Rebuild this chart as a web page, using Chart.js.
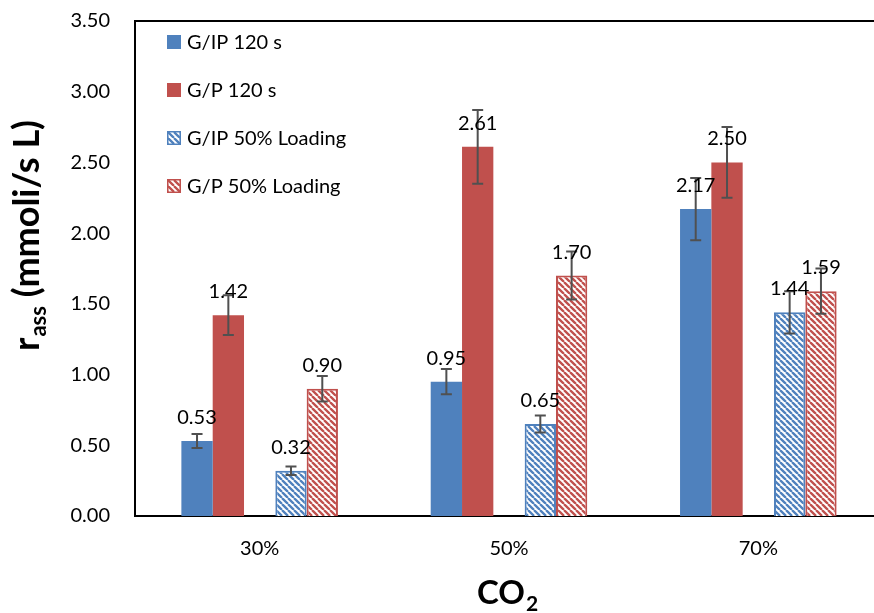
<!DOCTYPE html>
<html>
<head>
<meta charset="utf-8">
<script src="https://cdn.jsdelivr.net/npm/chart.js@4.4.0/dist/chart.umd.min.js"></script>
<style>
  html, body { margin: 0; padding: 0; background: #fff; overflow: hidden; }
  #wrap { width: 874px; height: 613px; overflow: hidden; position: relative; }
  canvas { display: block; }
</style>
</head>
<body>
<div id="wrap"><canvas id="c" width="883" height="613"></canvas></div>
<script>
// ---- Data ----
const categories = ['30%', '50%', '70%'];
const seriesNames = ['G/IP 120 s', 'G/P 120 s', 'G/IP 50% Loading', 'G/P 50% Loading'];
const gip120 = [0.53, 0.95, 2.17];
const gp120 = [1.42, 2.61, 2.50];
const gip50 = [0.32, 0.65, 1.44];
const gp50 = [0.90, 1.70, 1.59];
const gip120Err = [0.05, 0.09, 0.22];
const gp120Err = [0.14, 0.26, 0.25];
const gip50Err = [0.03, 0.06, 0.15];
const gp50Err = [0.09, 0.17, 0.16];
const yMin = 0, yMax = 3.5, yStep = 0.5;

// ---- Styles ----
const BLUE = '#4F81BD';
const RED = '#C0504D';
const FONT = 'Lato, "Open Sans", sans-serif';

const canvas = document.getElementById('c');
const ctx = canvas.getContext('2d');

function hatch(color) {
  const c = document.createElement('canvas');
  c.width = 6; c.height = 6;
  const g = c.getContext('2d');
  g.fillStyle = '#ffffff';
  g.fillRect(0, 0, 6, 6);
  g.strokeStyle = color;
  g.lineWidth = 2.3;
  g.beginPath();
  for (let k = -6; k <= 6; k += 6) { g.moveTo(k, 0); g.lineTo(k + 6, 6); }
  g.stroke();
  return ctx.createPattern(c, 'repeat');
}
const blueHatch = hatch(BLUE);
const redHatch = hatch(RED);

const extras = {
  id: 'extras',
  afterDatasetsDraw(chart) {
    const c = chart.ctx;
    const ys = chart.scales.y;
    // error bars
    chart.data.datasets.forEach((ds, i) => {
      if (!ds.err) return;
      const meta = chart.getDatasetMeta(i);
      meta.data.forEach((bar, j) => {
        const v = ds.data[j], e = ds.err[j];
        const yt = ys.getPixelForValue(v + e);
        const yb = ys.getPixelForValue(v - e);
        c.save();
        c.strokeStyle = '#505050';
        c.lineWidth = 2;
        c.beginPath();
        c.moveTo(bar.x, yt); c.lineTo(bar.x, yb);
        c.moveTo(bar.x - 5.5, yt); c.lineTo(bar.x + 5.5, yt);
        c.moveTo(bar.x - 5.5, yb); c.lineTo(bar.x + 5.5, yb);
        c.stroke();
        c.restore();
      });
    });
    // data labels
    chart.data.datasets.forEach((ds, i) => {
      if (!ds.err) return;
      const meta = chart.getDatasetMeta(i);
      meta.data.forEach((bar, j) => {
        c.save();
        c.fillStyle = '#000';
        c.font = '20px ' + FONT;
        c.textAlign = 'center';
        c.textBaseline = 'alphabetic';
        c.fillText(ds.data[j].toFixed(2), bar.x, bar.y - 17);
        c.restore();
      });
    });
  },
  afterDraw(chart) {
    const c = chart.ctx;
    const area = chart.chartArea;
    // top border of plot area
    c.save();
    c.strokeStyle = '#000';
    c.lineWidth = 2;
    c.beginPath();
    c.moveTo(area.left - 1, area.top);
    c.lineTo(area.right + 2, area.top);
    c.stroke();
    c.restore();

    // legend
    const items = chart.data.datasets.filter(d => d.err);
    items.forEach((ds, k) => {
      const cy = 42 + k * 48;
      const bx = 167, bs = 14;
      c.save();
      c.fillStyle = ds.backgroundColor;
      c.fillRect(bx, cy - bs / 2, bs, bs);
      if (ds.borderWidth) {
        c.strokeStyle = ds.borderColor;
        c.lineWidth = 1.5;
        c.strokeRect(bx + 0.75, cy - bs / 2 + 0.75, bs - 1.5, bs - 1.5);
      }
      c.fillStyle = '#000';
      c.font = '20px ' + FONT;
      c.textAlign = 'left';
      c.textBaseline = 'middle';
      c.fillText(ds.label, 187, cy + 1);
      c.restore();
    });

    // y-axis title: r_ass (mmoli/s L)
    c.save();
    c.translate(39, 236);
    c.rotate(-Math.PI / 2);
    c.fillStyle = '#000';
    c.textBaseline = 'alphabetic';
    c.textAlign = 'left';
    const big = 'bold 36px ' + FONT, small = 'bold 22px ' + FONT;
    c.font = big; const w1 = c.measureText('r').width;
    c.font = small; const w2 = c.measureText('ass').width;
    c.font = big; const w3 = c.measureText(' (mmoli/s L)').width;
    let x0 = -(w1 + w2 + w3) / 2;
    c.font = big; c.fillText('r', x0, 0);
    c.font = small; c.fillText('ass', x0 + w1 + 1, 7);
    c.font = big; c.fillText(' (mmoli/s L)', x0 + w1 + w2 + 1, 0);
    c.restore();

    // x-axis title: CO2
    c.save();
    c.fillStyle = '#000';
    c.textBaseline = 'alphabetic';
    c.textAlign = 'left';
    const xb = 'bold 33px ' + FONT, xs = 'bold 21px ' + FONT;
    c.font = xb; const a1 = c.measureText('CO').width;
    c.font = xs; const a2 = c.measureText('2').width;
    const sx = 507 - (a1 + a2) / 2;
    c.font = xb; c.fillText('CO', sx, 604);
    c.font = xs; c.fillText('2', sx + a1 + 1, 611);
    c.restore();
  }
};

new Chart(ctx, {
  type: 'bar',
  data: {
    labels: categories,
    datasets: [
      { label: seriesNames[0], data: gip120, err: gip120Err, backgroundColor: BLUE, borderWidth: 0 },
      { label: seriesNames[1], data: gp120, err: gp120Err, backgroundColor: RED, borderWidth: 0 },
      { label: '', data: [null, null, null], backgroundColor: 'rgba(0,0,0,0)' },
      { label: seriesNames[2], data: gip50, err: gip50Err, backgroundColor: blueHatch, borderColor: BLUE, borderWidth: 2 },
      { label: seriesNames[3], data: gp50, err: gp50Err, backgroundColor: redHatch, borderColor: RED, borderWidth: 2 }
    ]
  },
  options: {
    responsive: false,
    animation: false,
    devicePixelRatio: 1,
    layout: { padding: 0 },
    datasets: { bar: { categoryPercentage: 0.628, barPercentage: 1.0 } },
    plugins: { legend: { display: false }, tooltip: { enabled: false } },
    scales: {
      x: {
        grid: { display: false, drawTicks: false },
        border: { display: true, color: '#000', width: 2 },
        ticks: { color: '#000', font: { family: FONT, size: 20 }, padding: 21 },
        afterFit(s) { s.height = 97; s.paddingLeft = 0; s.paddingRight = 0; }
      },
      y: {
        min: yMin, max: yMax,
        grid: { display: false, drawTicks: false },
        border: { display: true, color: '#000', width: 2 },
        ticks: { stepSize: yStep, color: '#000', font: { family: FONT, size: 20 }, padding: 25,
                 callback: v => Number(v).toFixed(2) },
        afterFit(s) { s.width = 135; s.paddingTop = 21; s.paddingBottom = 0; }
      }
    }
  },
  plugins: [extras]
});
</script>
</body>
</html>
